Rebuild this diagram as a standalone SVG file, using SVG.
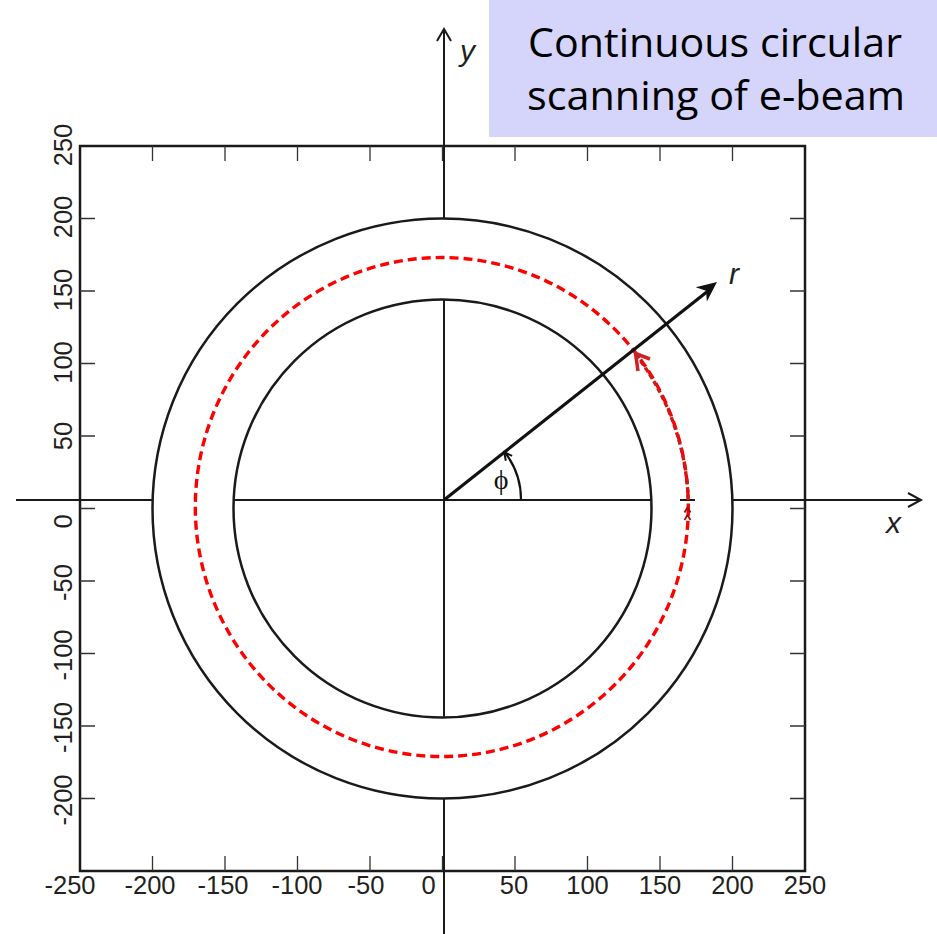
<svg xmlns="http://www.w3.org/2000/svg" width="937" height="934" viewBox="0 0 937 934">
<style>
.ax{stroke:#1a1a1a;stroke-width:2;fill:none}
.tk{stroke:#333;stroke-width:1.3;fill:none}
.lbl{font-family:"Liberation Sans",Arial,sans-serif;font-size:25.5px;fill:#231f20;text-anchor:middle}
.it{font-family:"Liberation Sans",Arial,sans-serif;font-style:italic;font-size:30px;fill:#231f20}
.title{font-family:"Open Sans","Noto Sans",sans-serif;font-size:40px;fill:#000;text-anchor:middle}
</style>
<rect width="937" height="934" fill="#fff"/>
<g id="title">
<rect x="489" y="0" width="448" height="137" fill="#d5d5fb"/>
<text class="title" x="715" y="57" textLength="374" lengthAdjust="spacingAndGlyphs">Continuous circular</text>
<text class="title" x="716" y="110" textLength="378" lengthAdjust="spacingAndGlyphs">scanning of e-beam</text>
</g>
<g id="frame">
<rect x="80" y="146" width="725" height="725" fill="none" stroke="#1a1a1a" stroke-width="2.5"/>
<path class="tk" d="M80 218.5h15M80 291h15M80 363.5h15M80 436h15M80 508.5h15M80 581h15M80 653.5h15M80 726h15M80 798.5h15
M805 218.5h-15M805 291h-15M805 363.5h-15M805 436h-15M805 508.5h-15M805 581h-15M805 653.5h-15M805 726h-15M805 798.5h-15
M152.5 871v-15M225 871v-15M297.5 871v-15M370 871v-15M442.5 871v-15M515 871v-15M587.5 871v-15M660 871v-15M732.5 871v-15
M152.5 146v15M225 146v15M297.5 146v15M370 146v15M442.5 146v15M515 146v15M587.5 146v15M660 146v15M732.5 146v15"/>
</g>
<g id="xlabels">
<text class="lbl" x="70" y="894">-250</text>
<text class="lbl" x="150" y="894">-200</text>
<text class="lbl" x="223" y="894">-150</text>
<text class="lbl" x="297" y="894">-100</text>
<text class="lbl" x="366" y="894">-50</text>
<text class="lbl" x="428.5" y="894">0</text>
<text class="lbl" x="514" y="894">50</text>
<text class="lbl" x="587.5" y="894">100</text>
<text class="lbl" x="660" y="894">150</text>
<text class="lbl" x="732.5" y="894">200</text>
<text class="lbl" x="805" y="894">250</text>
</g>
<g id="ylabels">
<text class="lbl" transform="translate(72 145) rotate(-90)">250</text>
<text class="lbl" transform="translate(72 217) rotate(-90)">200</text>
<text class="lbl" transform="translate(72 290) rotate(-90)">150</text>
<text class="lbl" transform="translate(72 362.5) rotate(-90)">100</text>
<text class="lbl" transform="translate(72 436) rotate(-90)">50</text>
<text class="lbl" transform="translate(72 521.5) rotate(-90)">0</text>
<text class="lbl" transform="translate(72 582.5) rotate(-90)">-50</text>
<text class="lbl" transform="translate(72 655) rotate(-90)">-100</text>
<text class="lbl" transform="translate(72 727.5) rotate(-90)">-150</text>
<text class="lbl" transform="translate(72 800) rotate(-90)">-200</text>
</g>
<g id="axes">
<path class="ax" d="M16 500H921M908 493l13 7l-13 7"/>
<path class="ax" d="M444 934V29M437 41l7-12l7 12"/>
<text class="it" x="886" y="533">x</text>
<text class="it" x="460" y="61">y</text>
</g>
<g id="annulus">
<path d="M152.5 508.5a290 290 0 1 0 580 0a290 290 0 1 0 -580 0ZM233.5 508.5a209 209 0 1 1 418 0a209 209 0 1 1 -418 0Z" fill="#fff" fill-rule="evenodd" stroke="#1a1a1a" stroke-width="2.5"/>
<path d="M680 500h15" stroke="#1a1a1a" stroke-width="2"/>
</g>
<g id="scan">
<ellipse cx="441.8" cy="507" rx="246.5" ry="249.5" fill="none" stroke="#ff0000" stroke-width="3.4" stroke-dasharray="9 5"/>
<path d="M688.2 500A246.5 249.5 0 0 0 634.2 352.5" fill="none" stroke="#d01818" stroke-width="3.4" stroke-dasharray="5 3"/>
<path d="M650 359L635.5 353.5L638 371" fill="none" stroke="#cc2222" stroke-width="3.5"/>
<path d="M684.5 512.5l3-5l3 5M684.5 520l3-5l3 5" fill="none" stroke="#a00c0c" stroke-width="1.8"/>
</g>
<g id="radius">
<path d="M444 500L708 291" stroke="#111" stroke-width="3.2" fill="none"/>
<polygon points="717,282 695.7,287.3 706,290.7 706.9,301.5" fill="#111"/>
<text class="it" x="729" y="284">r</text>
</g>
<g id="phi">
<path d="M521 500A77 77 0 0 0 505 452.5" fill="none" stroke="#111" stroke-width="2.2"/>
<path d="M512.1 455.8L504.2 452.3L505.8 460.8" fill="none" stroke="#111" stroke-width="2"/>
<text x="501" y="489" font-family="'Liberation Serif','Times New Roman',serif" font-size="28" fill="#111" text-anchor="middle">ϕ</text>
</g>
</svg>
